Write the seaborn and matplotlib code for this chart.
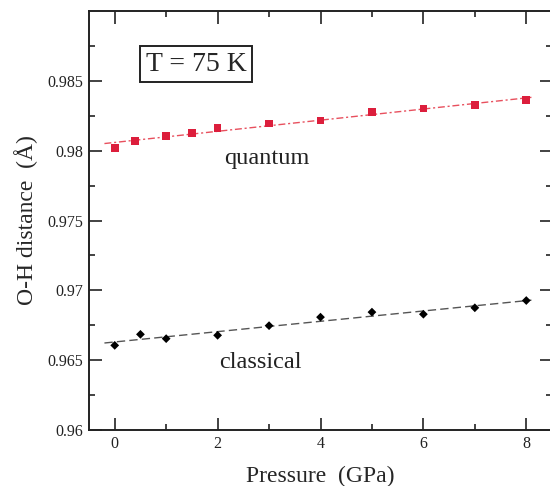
#!/usr/bin/env python3
import numpy as np
import pandas as pd
import seaborn as sns
from matplotlib import pyplot as plt

# O-H distance vs pressure at T = 75 K
quantum_p = [0, 0.4, 1, 1.5, 2, 3, 4, 5, 6, 7, 8]
quantum_d = [0.98021, 0.98069, 0.98104, 0.98128, 0.98161, 0.98195,
             0.98216, 0.98275, 0.98302, 0.98325, 0.98363]
classical_p = [0, 0.5, 1, 2, 3, 4, 5, 6, 7, 8]
classical_d = [0.96606, 0.96685, 0.96654, 0.96678, 0.96747, 0.96808,
               0.96844, 0.96829, 0.96875, 0.96927]

x_ticks = [0, 2, 4, 6, 8]
y_ticks = [0.96, 0.965, 0.97, 0.975, 0.98, 0.985]
y_tick_labels = ["0.96", "0.965", "0.97", "0.975", "0.98", "0.985"]


def main():
    sns.set_style("ticks")
    plt.rcParams['font.family'] = ['Liberation Serif', 'DejaVu Serif']

    quantum = pd.DataFrame({"Pressure": quantum_p, "Distance": quantum_d})
    classical = pd.DataFrame({"Pressure": classical_p, "Distance": classical_d})

    fig = plt.figure(figsize=(5.5, 4.86), dpi=100)
    ax = fig.add_axes([89 / 550, 56 / 486, 463 / 550, 419 / 486])

    # linear fits through each set
    fit_x = np.array([-0.2, 8.1])
    q_fit = np.polyfit(quantum_p, quantum_d, 1)
    c_fit = np.polyfit(classical_p, classical_d, 1)
    ax.plot(fit_x, np.polyval(q_fit, fit_x), color="#e8505e", lw=1.0,
            linestyle=(0, (5, 2, 1.5, 2)), zorder=2)
    ax.plot(fit_x, np.polyval(c_fit, fit_x), color="#555555", lw=1.0,
            linestyle=(0, (6, 3)), zorder=2)

    sns.scatterplot(quantum, x="Pressure", y="Distance", ax=ax, marker="s",
                    s=30, color="#dc1e3c", edgecolor="none", zorder=3)
    sns.scatterplot(classical, x="Pressure", y="Distance", ax=ax, marker="D",
                    s=20, color="black", edgecolor="none", zorder=3)

    ax.set_xlim(-0.5, 8.5)
    ax.set_ylim(0.96, 0.99)
    ax.set_xticks(x_ticks)
    ax.set_xticks([1, 3, 5, 7], minor=True)
    ax.set_yticks(y_ticks, y_tick_labels)
    ax.set_yticks(np.arange(0.9625, 0.99, 0.005), minor=True)
    ax.tick_params(which="both", direction="in", top=True, right=True,
                   labelsize=11.5, width=1.2, colors="#222222", pad=4)
    ax.tick_params(which="major", length=9)
    ax.tick_params(which="minor", length=4.5)
    for spine in ax.spines.values():
        spine.set_linewidth(1.4)
        spine.set_color("#222222")

    ax.set_xlabel("Pressure  (GPa)", fontsize=17, labelpad=10)
    ax.set_ylabel("O-H distance  (Å)", fontsize=17, labelpad=7)

    ax.text(0.2316, 0.8735, "T = 75 K", transform=ax.transAxes, fontsize=20,
            ha="center", va="center",
            bbox=dict(boxstyle="square,pad=0.2", fc="white", ec="#222222", lw=1.4))
    ax.text(0.383, 0.648, "quantum", transform=ax.transAxes, fontsize=17.5,
            ha="center", va="center", color="#222222")
    ax.text(0.370, 0.160, "classical", transform=ax.transAxes, fontsize=17.5,
            ha="center", va="center", color="#222222")

    plt.savefig("out.png", dpi=100)
    plt.close()


if __name__ == '__main__':
    main()
